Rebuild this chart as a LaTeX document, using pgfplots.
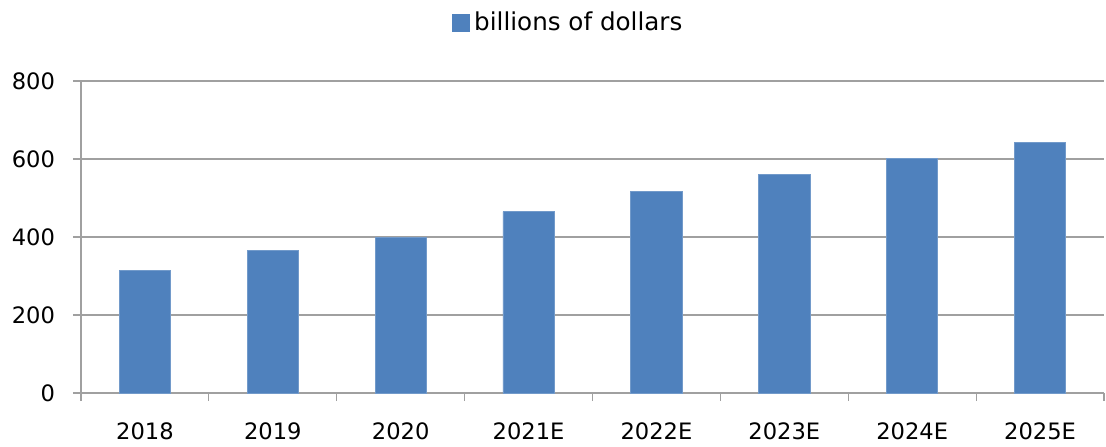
\documentclass[border=0pt]{standalone}
\usepackage{fontspec}
\setmainfont{DejaVu Sans}
\usepackage{pgfplots}
\pgfplotsset{compat=1.18}
\definecolor{barblue}{HTML}{4F81BD}
\definecolor{gridgray}{RGB}{160,160,160}
\begin{document}
\begin{tikzpicture}
\path[use as bounding box] (-40.5pt,-26.5pt) rectangle (512.5pt,196.5pt);
\begin{axis}[
  at={(0pt,0pt)}, anchor=south west,
  scale only axis,
  width=511.5pt, height=156pt,
  xmin=-0.5, xmax=7.5,
  ymin=0, ymax=800,
  ytick={0,200,400,600,800},
  xtick={-0.5,0.5,...,7.5},
  xticklabels={},
  extra x ticks={0,...,7},
  extra x tick labels={2018,2019,2020,2021E,2022E,2023E,2024E,2025E},
  extra x tick style={major tick length=0pt, tick style={draw=none}, grid=none,
    xticklabel style={yshift=-11.5pt}},
  tick align=outside,
  major tick length=4pt,
  axis x line*=bottom,
  axis y line*=left,
  axis line style={gridgray, line width=0.6pt, -},
  tick style={gridgray, line width=0.6pt},
  ymajorgrids,
  grid style={gridgray, line width=0.6pt},
  tick label style={font=\fontsize{11.3}{13}\selectfont, text=black},
  yticklabel style={xshift=-5.5pt},
  /pgf/number format/assume math mode=true,
  legend style={at={(0.3627,1.186)}, anchor=west, draw=none, fill=none,
    font=\fontsize{12.3}{14}\selectfont, inner sep=0pt},
  ybar, bar width=25.6pt,
]
\addplot[fill=barblue, draw=barblue!80!white, line width=0.4pt,
  legend image code/.code={\fill[barblue] (0pt,-4.25pt) rectangle (8.5pt,4.25pt);}] coordinates {
 (0,315) (1,365) (2,399) (3,465) (4,516) (5,560) (6,602) (7,643)};
\addlegendentry{billions of dollars}
\end{axis}
\end{tikzpicture}
\end{document}
